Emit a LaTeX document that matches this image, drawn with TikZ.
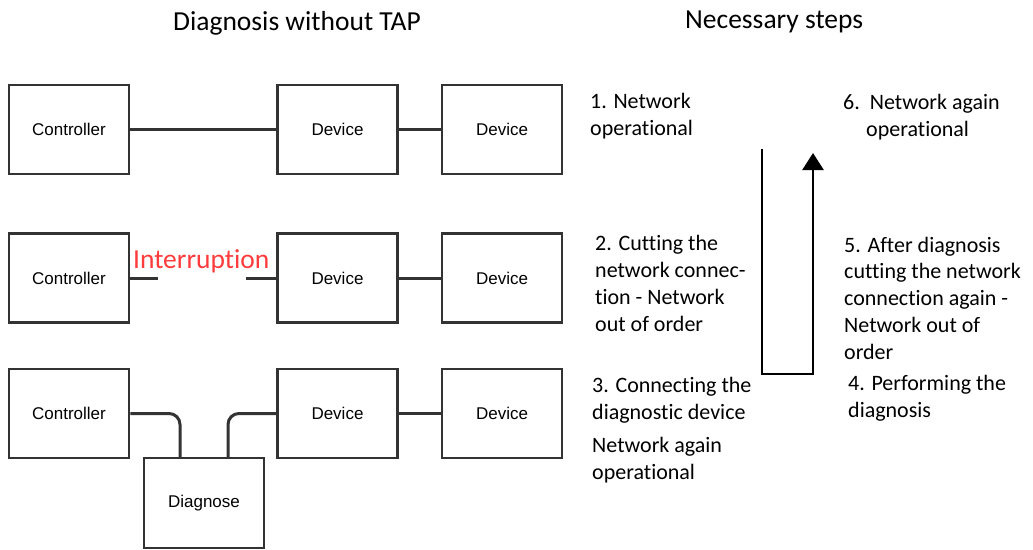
\documentclass[tikz,border=0pt]{standalone}
\usepackage{fontspec}
\usetikzlibrary{arrows.meta}
\newfontfamily\carlfont[Ligatures=CommonOff]{Carlito}
\newfontfamily\boxfont{Liberation Sans}
\definecolor{linegrey}{HTML}{333333}
\definecolor{intred}{HTML}{FF3B3B}
\begin{document}
\begin{tikzpicture}[x=1pt,y=-1pt,
  unit/.style={draw=linegrey,line width=2.5pt,minimum width=120pt,minimum height=89pt,inner sep=0pt,font=\boxfont\fontsize{17}{19}\selectfont},
  wire/.style={draw=linegrey,line width=3pt},
  title/.style={anchor=base west,inner sep=0pt,font=\carlfont\fontsize{27.5}{33}\selectfont},
  steptext/.style={anchor=base west,inner sep=0pt,align=left,font=\carlfont\fontsize{22}{26.7}\selectfont}]
\useasboundingbox (0,0) rectangle (1033,549);
% titles
\node[title] (t1) at (173,30) {Diagnosis without TAP};
\node[title] (t2) at (685,28) {Necessary steps};
% row 1
\node[unit] (c1) at (69,129.5) {Controller};
\node[unit] (d11) at (337.5,129.5) {Device};
\node[unit] (d12) at (502,129.5) {Device};
\draw[wire] (c1.east) -- (d11.west);
\draw[wire] (d11.east) -- (d12.west);
% row 2
\node[unit] (c2) at (69,278) {Controller};
\node[unit] (d21) at (337.5,278) {Device};
\node[unit] (d22) at (502,278) {Device};
\coordinate (cutL) at (158,278);
\coordinate (cutR) at (246,278);
\draw[wire] (c2.east) -- (cutL);
\draw[wire] (cutR) -- (d21.west);
\draw[wire] (d21.east) -- (d22.west);
\node[anchor=base west,inner sep=0pt,text=intred,font=\carlfont\fontsize{27.5}{33}\selectfont] (intr) at (133,268) {Interruption};
% row 3
\node[unit] (c3) at (69,413.5) {Controller};
\node[unit] (d31) at (337.5,413.5) {Device};
\node[unit] (d32) at (502,413.5) {Device};
\node[unit,minimum height=90pt] (dg) at (204,503) {Diagnose};
\draw[wire,rounded corners=11pt] (c3.east) -| ([xshift=-24pt]dg.north);
\draw[wire,rounded corners=11pt] ([xshift=24pt]dg.north) |- (d31.west);
\draw[wire] (d31.east) -- (d32.west);
% steps (anchor = baseline of last line)
\node[steptext] (s1) at (590,135) {1. Network\\operational};
\node[steptext] (s2) at (595,331) {2. Cutting the\\network connec-\\tion - Network\\out of order};
\node[steptext] (s3) at (592,419) {3. Connecting the\\diagnostic device};
\node[steptext] (s3b) at (592,479) {Network again\\operational};
\node[steptext] (s6) at (843,136) {6.\ \ Network again\\\hspace*{23pt}operational};
\node[steptext] (s5) at (844,359) {5. After diagnosis\\cutting the network\\connection again -\\Network out of\\order};
\node[steptext] (s4) at (848,417) {4. Performing the\\diagnosis};
% loop arrow
\coordinate (ls) at (762,149);
\coordinate (lb1) at (762,374);
\coordinate (lb2) at (813,374);
\coordinate (lt) at (813,153);
\draw[line width=2.5pt,-{Triangle[length=17pt,width=21pt]}] (ls) -- (lb1) -- (lb2) -- (lt);
\end{tikzpicture}
\end{document}
